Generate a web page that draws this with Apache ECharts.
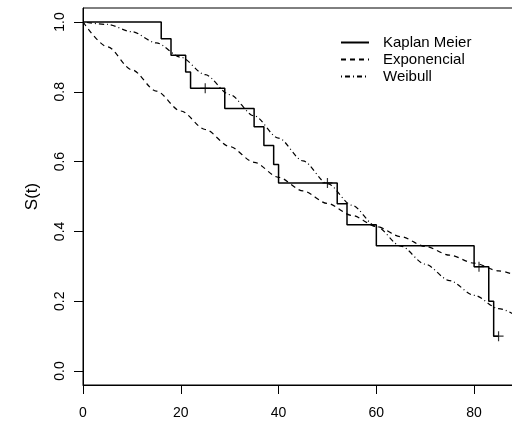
<!DOCTYPE html>
<html>
<head>
<meta charset="utf-8">
<script src="https://cdn.jsdelivr.net/npm/echarts@6/dist/echarts.min.js"></script>
<style>
html,body{margin:0;padding:0;background:#fff;}
#chart{width:512px;height:421px;}
</style>
</head>
<body>
<div id="chart"></div>
<script>
// Kaplan-Meier step estimate (time of step, survival after step)
var kmTimes = [0, 16, 18, 21, 22, 29, 35, 37, 39, 40, 52, 54, 60, 80, 83, 84, 85];
var kmSurv  = [1, 0.952, 0.905, 0.857, 0.81, 0.752, 0.70, 0.646, 0.592, 0.539, 0.479, 0.419, 0.359, 0.299, 0.2, 0.1, 0.1];
// censored observations (+ marks)
var censorTimes = [25, 50, 81, 85];
var censorSurv  = [0.81, 0.539, 0.299, 0.1];
// fitted parametric curves
var curveTimes = [0, 5, 10, 15, 20, 25, 30, 35, 40, 45, 50, 55, 60, 65, 70, 75, 80, 85, 90];
var expSurv = [1, 0.929, 0.863, 0.802, 0.745, 0.692, 0.643, 0.598, 0.555, 0.516, 0.480, 0.446, 0.414, 0.385, 0.357, 0.332, 0.309, 0.287, 0.266];
var weiSurv = [1, 0.993, 0.972, 0.940, 0.899, 0.849, 0.792, 0.731, 0.667, 0.602, 0.537, 0.475, 0.414, 0.358, 0.306, 0.259, 0.217, 0.179, 0.147];
var xTicks = [0, 20, 40, 60, 80];
var yTicks = [0, 0.2, 0.4, 0.6, 0.8, 1.0];
var seriesNames = ['Kaplan Meier', 'Exponencial', 'Weibull'];
var yName = 'S(t)';

function zip(a, b) { return a.map(function (v, i) { return [v, b[i]]; }); }

var FONT = 'Liberation Sans, Arial, Helvetica, sans-serif';
var chart = echarts.init(document.getElementById('chart'), null, {renderer: 'canvas'});
chart.setOption({
  animation: false,
  backgroundColor: '#fff',
  textStyle: {fontFamily: FONT, color: '#000'},
  grid: {left: 83, top: 8, width: 440, height: 377, show: true, borderColor: '#000', borderWidth: 1,
         backgroundColor: 'transparent', containLabel: false, outerBoundsMode: 'none'},
  legend: {
    data: seriesNames,
    orient: 'vertical',
    left: 335,
    top: 30,
    itemWidth: 28,
    itemHeight: 12,
    itemGap: 2,
    itemStyle: {opacity: 0},
    textStyle: {fontFamily: FONT, fontSize: 15, color: '#000', padding: [0, 0, 0, 9]}
  },
  xAxis: {
    type: 'value', min: 0, max: 90,
    axisLine: {show: true, onZero: false, lineStyle: {color: '#000', width: 1}},
    axisTick: {show: true, inside: false, length: 9, lineStyle: {color: '#000'}, customValues: xTicks},
    axisLabel: {show: true, color: '#000', fontSize: 14, fontFamily: FONT, margin: 21, customValues: xTicks},
    splitLine: {show: false}
  },
  yAxis: {
    type: 'value', min: -0.04, max: 1.04,
    name: yName, nameLocation: 'middle', nameGap: 42, nameRotate: 90,
    nameTextStyle: {fontFamily: FONT, fontSize: 17, color: '#000'},
    axisLine: {show: true, onZero: false, lineStyle: {color: '#000', width: 1}},
    axisTick: {show: true, inside: false, length: 9, lineStyle: {color: '#000'}, customValues: yTicks},
    axisLabel: {show: true, color: '#000', fontSize: 14, fontFamily: FONT, rotate: 90, margin: 16, customValues: yTicks,
      formatter: function (v) { return v.toFixed(1); }},
    splitLine: {show: false}
  },
  series: [
    {
      name: seriesNames[0], type: 'line', step: 'end', symbol: 'none',
      data: zip(kmTimes, kmSurv),
      lineStyle: {color: '#000', width: 1.5, type: 'solid'},
      itemStyle: {color: '#000'}
    },
    {
      name: seriesNames[1], type: 'line', symbol: 'none', smooth: 0.3, smoothMonotone: 'x',
      data: zip(curveTimes, expSurv),
      lineStyle: {color: '#000', width: 1.2, type: [5, 4]},
      itemStyle: {color: '#000'}
    },
    {
      name: seriesNames[2], type: 'line', symbol: 'none', smooth: 0.3, smoothMonotone: 'x',
      data: zip(curveTimes, weiSurv),
      lineStyle: {color: '#000', width: 1.2, type: [1, 3, 5, 3]},
      itemStyle: {color: '#000'}
    },
    {
      name: 'censored', type: 'scatter',
      symbol: 'path://M4.4,0 H5.6 V4.4 H10 V5.6 H5.6 V10 H4.4 V5.6 H0 V4.4 H4.4 Z',
      symbolSize: 10,
      data: zip(censorTimes, censorSurv),
      itemStyle: {color: '#000'},
      z: 5
    }
  ]
});
</script>
</body>
</html>
